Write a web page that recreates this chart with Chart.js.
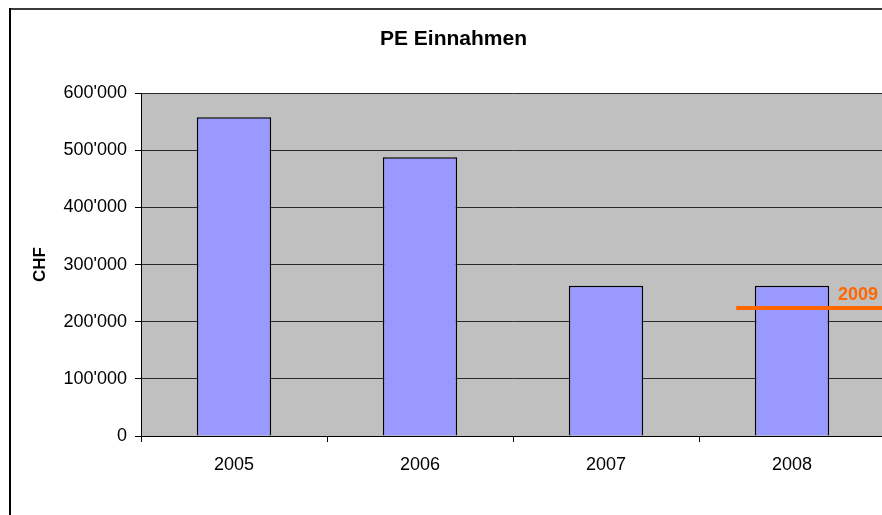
<!DOCTYPE html>
<html>
<head>
<meta charset="utf-8">
<script src="https://cdn.jsdelivr.net/npm/chart.js@4.4.1/dist/chart.umd.min.js"></script>
<style>
  html, body { margin: 0; padding: 0; background: #fff; overflow: hidden; width: 882px; height: 515px; }
  #wrap { position: absolute; left: 0; top: 0; width: 904px; height: 515px; }
</style>
</head>
<body>
<div id="wrap"><canvas id="c" width="904" height="515"></canvas></div>
<script>
const categories = ['2005', '2006', '2007', '2008'];
const einnahmen = [558000, 488000, 263000, 263000];
const yTicks = [0, 100000, 200000, 300000, 400000, 500000, 600000];
const targetLabel = '2009';
const targetValue = 224000;
const targetFrom = 3.2;   // position on category axis (0..4)
const targetTo = 4.0;

const fmt = v => String(v).replace(/\B(?=(\d{3})+(?!\d))/g, "'");

const framePlugin = {
  id: 'frame',
  beforeDraw(chart) {
    const { ctx, chartArea: a } = chart;
    ctx.save();
    ctx.fillStyle = '#C0C0C0';
    ctx.fillRect(a.left, a.top, a.right - a.left, a.bottom - a.top);
    ctx.fillStyle = '#3a3a3a';
    ctx.fillRect(9, 8, chart.width, 2);
    ctx.fillStyle = '#000';
    ctx.fillRect(9, 8, 2, chart.height);
    ctx.restore();
  },
  afterDatasetsDraw(chart) {
    const ds = chart.data.datasets[1];
    const x2 = chart.scales.x2, y = chart.scales.y;
    const px = x2.getPixelForValue(ds.data[1].x);
    const py = y.getPixelForValue(ds.data[1].y);
    const { ctx } = chart;
    ctx.save();
    ctx.font = 'bold 18px "Liberation Sans", Arial, sans-serif';
    ctx.fillStyle = '#FF6600';
    ctx.textAlign = 'right';
    ctx.textBaseline = 'alphabetic';
    ctx.fillText(ds.label, px - 7, py - 8);
    ctx.restore();
  }
};

new Chart(document.getElementById('c'), {
  type: 'bar',
  data: {
    labels: categories,
    datasets: [
      {
        type: 'bar',
        label: 'PE Einnahmen',
        data: einnahmen,
        backgroundColor: '#9999FF',
        borderColor: '#000000',
        borderWidth: 1.5,
        barPercentage: 0.4,
        categoryPercentage: 1.0,
        grouped: false,
        order: 2
      },
      {
        type: 'line',
        label: targetLabel,
        xAxisID: 'x2',
        data: [{ x: targetFrom, y: targetValue }, { x: targetTo, y: targetValue }],
        borderColor: '#FF6600',
        borderWidth: 4,
        pointRadius: 0,
        fill: false,
        order: 1
      }
    ]
  },
  options: {
    responsive: false,
    animation: false,
    devicePixelRatio: 1,
    layout: { padding: { left: 22, right: 19, top: 0, bottom: 0 } },
    plugins: {
      legend: { display: false },
      tooltip: { enabled: false },
      title: {
        display: true,
        text: 'PE Einnahmen',
        color: '#000',
        font: { family: '"Liberation Sans", Arial, sans-serif', size: 21, weight: 'bold', lineHeight: 1.2 },
        padding: { top: 27, bottom: 41 }
      }
    },
    scales: {
      x: {
        type: 'category',
        offset: true,
        grid: { display: true, offset: true, drawOnChartArea: false, drawTicks: true, tickLength: 6, color: '#000' },
        border: { display: true, color: '#000', width: 1 },
        ticks: { color: '#000', padding: 12, font: { family: '"Liberation Sans", Arial, sans-serif', size: 18 } },
        afterFit(s) { s.height = 79; }
      },
      x2: {
        type: 'linear',
        display: false,
        offset: false,
        grid: { offset: false },
        min: 0,
        max: 4
      },
      y: {
        min: 0,
        max: 600000,
        afterBuildTicks(s) { s.ticks = yTicks.map(v => ({ value: v })); },
        grid: { color: '#2a2a2a', lineWidth: 1, drawTicks: true, tickLength: 6, tickColor: '#000' },
        border: { display: true, color: '#000', width: 1 },
        ticks: {
          color: '#000',
          padding: 8,
          font: { family: '"Liberation Sans", Arial, sans-serif', size: 18 },
          callback: v => fmt(v)
        },
        title: {
          display: true,
          text: 'CHF',
          color: '#000',
          font: { family: '"Liberation Sans", Arial, sans-serif', size: 17, weight: 'bold' },
          padding: { top: 8, bottom: 0 }
        },
        afterFit(s) { s.width = 119; }
      }
    }
  },
  plugins: [framePlugin]
});
</script>
</body>
</html>
